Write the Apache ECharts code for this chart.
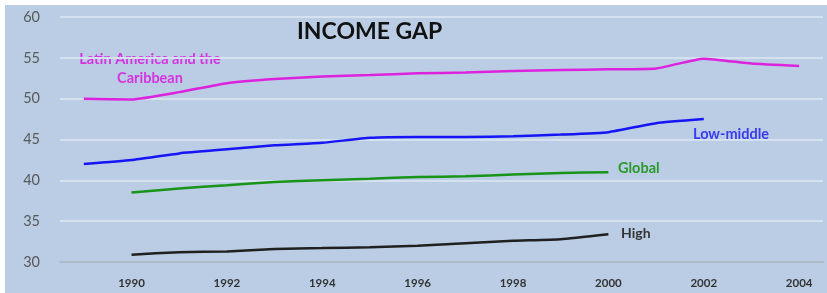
<!DOCTYPE html>
<html><head><meta charset="utf-8">
<script src="https://cdn.jsdelivr.net/npm/echarts@6/dist/echarts.min.js"></script>
<style>
html,body{margin:0;padding:0;background:#fff;}
#panel{position:absolute;left:5px;top:5px;width:822px;height:288px;background:#bacde5;}
#c{position:absolute;left:0;top:0;width:827px;height:293px;}
</style></head>
<body><div id="panel"></div><div id="c"></div>
<script>
const years = ['1989','1990','1991','1992','1993','1994','1995','1996','1997','1998','1999','2000','2001','2002','2003','2004'];
const latinAmerica = [50.0,49.9,50.8,51.9,52.4,52.7,52.9,53.1,53.2,53.4,53.5,53.6,53.7,54.9,54.3,54.0];
const lowMiddle = [42.0,42.5,43.3,43.8,44.3,44.6,45.2,45.3,45.3,45.4,45.6,45.9,47.0,47.5,null,null];
const globalGap = [null,38.5,39.0,39.4,39.8,40.0,40.2,40.4,40.5,40.7,40.9,41.0,null,null,null,null];
const high = [null,30.9,31.2,31.3,31.6,31.7,31.8,32.0,32.3,32.6,32.8,33.4,null,null,null,null];
const yTicks = [30,35,40,45,50,55,60];

const chart = echarts.init(document.getElementById('c'), null, {renderer:'canvas'});
const font = 'Lato, "Open Sans", sans-serif';
function line(name, data, color){
  return {name, type:'line', data, symbol:'none', smooth:0.15, connectNulls:false,
    lineStyle:{color, width:2.5}, itemStyle:{color}};
}
chart.setOption({
  backgroundColor:'transparent',
  animation:false,
  grid:{left:60, right:4, top:17, bottom:31, containLabel:false},
  xAxis:{type:'category', data:years, boundaryGap:true,
    axisLine:{show:true, lineStyle:{color:'#a3adbb', width:1.5}},
    axisTick:{show:false},
    axisLabel:{interval:0, margin:15, color:'#333', fontFamily:font, fontWeight:'bold', fontSize:11.5,
      formatter:(v)=> (parseInt(v)%2===0 ? v : '')}},
  yAxis:{type:'value', min:yTicks[0], max:yTicks[yTicks.length-1], interval:5,
    axisLine:{show:false}, axisTick:{show:false},
    axisLabel:{margin:20, color:'#595959', fontFamily:font, fontSize:14.5},
    splitLine:{show:true, lineStyle:{color:'#d6e1ef', width:2}}},
  series:[
    line('Latin America and the Caribbean', latinAmerica, '#dd22dd'),
    line('Low-middle', lowMiddle, '#1515f5'),
    line('Global', globalGap, '#189418'),
    line('High', high, '#202020')
  ],
  graphic:[
    {type:'text', left:297, top:20, style:{text:'INCOME GAP', font:'bold 23px '+font, fill:'#111'}},
    {type:'text', x:150, y:59, style:{text:'Latin America and the', font:'bold 14.5px '+font, fill:'#d633e0', align:'center', verticalAlign:'middle'}},
    {type:'text', x:150, y:78, style:{text:'Caribbean', font:'bold 14.5px '+font, fill:'#d633e0', align:'center', verticalAlign:'middle'}},
    {type:'text', left:693, top:127, style:{text:'Low-middle', font:'bold 14.5px '+font, fill:'#3a3af0'}},
    {type:'text', left:618, top:161, style:{text:'Global', font:'bold 14.5px '+font, fill:'#2a9a2a'}},
    {type:'text', left:621, top:226, style:{text:'High', font:'bold 14px '+font, fill:'#333'}}
  ]
});
</script></body></html>
